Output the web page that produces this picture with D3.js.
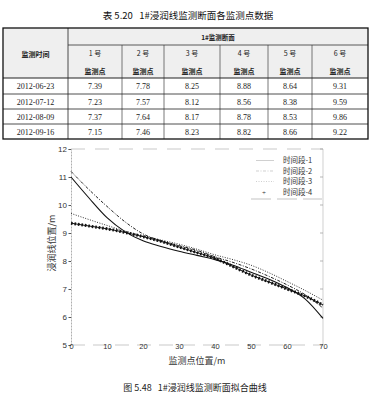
<!DOCTYPE html>
<html>
<head>
<meta charset="utf-8">
<script src="https://cdn.jsdelivr.net/npm/d3@7"></script>
<style>
  body { margin: 0; background: #fff; }
  svg { display: block; }
</style>
</head>
<body>
<svg id="page" width="390" height="398"></svg>
<script>
// table data
const tableTitle = "表 5.20\u00a0\u00a0\u00a01#浸润线监测断面各监测点数据";
const sectionName = "1#监测断面";
const dates = ["2012-06-23", "2012-07-12", "2012-08-09", "2012-09-16"];
const pointNames = ["1 号", "2 号", "3 号", "4 号", "5 号", "6 号"];
const row1 = [7.39, 7.78, 8.25, 8.88, 8.64, 9.31];
const row2 = [7.23, 7.57, 8.12, 8.56, 8.38, 9.59];
const row3 = [7.37, 7.64, 8.17, 8.78, 8.53, 9.86];
const row4 = [7.15, 7.46, 8.23, 8.82, 8.66, 9.22];

// chart data
const positions = [0, 5, 10, 15, 20, 25, 30, 35, 40, 45, 50, 55, 60, 65, 70];
const period1 = [11.0, 10.25, 9.55, 9.05, 8.72, 8.52, 8.35, 8.2, 8.05, 7.85, 7.6, 7.35, 7.05, 6.65, 5.95];
const period2 = [11.2, 10.55, 9.95, 9.4, 8.97, 8.72, 8.55, 8.38, 8.15, 7.95, 7.72, 7.45, 7.15, 6.8, 6.32];
const period3 = [9.7, 9.48, 9.27, 9.07, 8.9, 8.75, 8.6, 8.42, 8.22, 8.05, 7.85, 7.58, 7.27, 6.95, 6.6];
const period4 = [9.35, 9.25, 9.15, 9.02, 8.87, 8.7, 8.5, 8.3, 8.1, 7.8, 7.5, 7.25, 7.0, 6.75, 6.43];
const seriesNames = ["时间段-1", "时间段-2", "时间段-3", "时间段-4"];
const xTicks = [0, 10, 20, 30, 40, 50, 60, 70];
const yTicks = [5, 6, 7, 8, 9, 10, 11, 12];
const figCaption = "图 5.48\u00a0\u00a0\u00a01#浸润线监测断面拟合曲线";

const svg = d3.select("#page");
const cjk = "'Noto Sans CJK SC', sans-serif";
const serif = "'Liberation Serif', 'DejaVu Serif', serif";

// ---- TABLE ----
svg.append("text")
    .attr("x", 188).attr("y", 19)
    .attr("text-anchor", "middle")
    .style("font-family", cjk).style("font-size", "9.5px").style("fill", "#111")
    .text(tableTitle);

const colEdges = [3, 68, 122, 164, 220, 268, 312, 368];
const rowEdges = [28, 45, 78, 94, 109, 124, 139];

const tbl = svg.append("g");
// header background (scanned grey)
tbl.append("rect")
    .attr("x", colEdges[0]).attr("y", rowEdges[0])
    .attr("width", colEdges[7] - colEdges[0]).attr("height", rowEdges[2] - rowEdges[0])
    .attr("fill", "#efefef");

// vertical inner lines
tbl.selectAll(".vl").data(colEdges.slice(1, -1)).enter().append("line")
    .attr("x1", d => d).attr("x2", d => d)
    .attr("y1", (d, i) => i === 0 ? rowEdges[0] : rowEdges[1])
    .attr("y2", rowEdges[6])
    .attr("stroke", (d, i) => i === 0 ? "#222" : "#555")
    .attr("stroke-width", 0.8);

// horizontal lines
tbl.append("line")
    .attr("x1", colEdges[1]).attr("x2", colEdges[7])
    .attr("y1", rowEdges[1]).attr("y2", rowEdges[1])
    .attr("stroke", "#333").attr("stroke-width", 0.8);
tbl.selectAll(".hl").data(rowEdges.slice(2, -1)).enter().append("line")
    .attr("x1", colEdges[0]).attr("x2", colEdges[7])
    .attr("y1", d => d).attr("y2", d => d)
    .attr("stroke", "#222")
    .attr("stroke-width", (d, i) => i === 0 ? 1.2 : 0.8);

// outer border
tbl.append("rect")
    .attr("x", colEdges[0]).attr("y", rowEdges[0])
    .attr("width", colEdges[7] - colEdges[0]).attr("height", rowEdges[6] - rowEdges[0])
    .attr("fill", "none").attr("stroke", "#111").attr("stroke-width", 1.3);

// header texts
tbl.append("text")
    .attr("x", (colEdges[0] + colEdges[1]) / 2).attr("y", 57)
    .attr("text-anchor", "middle")
    .style("font-family", cjk).style("font-size", "7px").style("font-weight", "bold").style("fill", "#222")
    .text("监测时间");
tbl.append("text")
    .attr("x", (colEdges[1] + colEdges[7]) / 2).attr("y", 39.5)
    .attr("text-anchor", "middle")
    .style("font-family", cjk).style("font-size", "6.5px").style("font-weight", "bold").style("fill", "#222")
    .text(sectionName);

pointNames.forEach((name, i) => {
    const cx = (colEdges[i + 1] + colEdges[i + 2]) / 2;
    tbl.append("text")
        .attr("x", cx).attr("y", 56)
        .attr("text-anchor", "middle")
        .style("font-family", cjk).style("font-size", "7px").style("fill", "#222")
        .text(name);
    tbl.append("text")
        .attr("x", cx).attr("y", 73.5)
        .attr("text-anchor", "middle")
        .style("font-family", cjk).style("font-size", "7px").style("font-weight", "bold").style("fill", "#222")
        .text("监测点");
});

const rows = [row1, row2, row3, row4];
const fmt = d3.format(".2f");
rows.forEach((vals, r) => {
    const cy = (rowEdges[r + 2] + rowEdges[r + 3]) / 2 + 3;
    tbl.append("text")
        .attr("x", (colEdges[0] + colEdges[1]) / 2).attr("y", cy)
        .attr("text-anchor", "middle")
        .style("font-family", serif).style("font-size", "8px").style("fill", "#222")
        .text(dates[r]);
    vals.forEach((v, i) => {
        tbl.append("text")
            .attr("x", (colEdges[i + 1] + colEdges[i + 2]) / 2).attr("y", cy)
            .attr("text-anchor", "middle")
            .style("font-family", serif).style("font-size", "8px").style("fill", "#222")
            .text(fmt(v));
    });
});

// ---- CHART ----
const xScale = d3.scaleLinear().domain([0, 70]).range([71, 323]);
const yScale = d3.scaleLinear().domain([5, 12]).range([345, 149]);

// frame
svg.append("line")
    .attr("x1", 323).attr("x2", 323).attr("y1", 149).attr("y2", 345)
    .attr("stroke", "#bbb").attr("stroke-width", 0.7);
svg.append("line")
    .attr("x1", 71).attr("x2", 323).attr("y1", 149).attr("y2", 149)
    .attr("stroke", "#bbb").attr("stroke-width", 0.8).attr("stroke-dasharray", "14,10");
svg.append("line")
    .attr("x1", 71).attr("x2", 323).attr("y1", 345).attr("y2", 345)
    .attr("stroke", "#bbb").attr("stroke-width", 0.8).attr("stroke-dasharray", "14,8");

// right-side inner ticks
svg.selectAll(".rt").data(yTicks).enter().append("line")
    .attr("x1", 320).attr("x2", 323)
    .attr("y1", d => yScale(d)).attr("y2", d => yScale(d))
    .attr("stroke", "#999").attr("stroke-width", 0.7);

const yAxis = svg.append("g")
    .attr("transform", "translate(71,0)")
    .call(d3.axisLeft(yScale).tickValues(yTicks).tickSize(2.5).tickPadding(1.5).tickFormat(d3.format("d")));
yAxis.select(".domain").attr("stroke", "#999").attr("stroke-width", 0.8).attr("stroke-dasharray", "2,1");
yAxis.selectAll(".tick line").attr("stroke", "#555");
yAxis.selectAll(".tick text")
    .style("font-family", "'Liberation Sans', Arial, sans-serif").style("font-size", "8px").style("fill", "#333");

const xAxis = svg.append("g")
    .attr("transform", "translate(0,344)")
    .call(d3.axisBottom(xScale).tickValues(xTicks).tickSize(0).tickPadding(0).tickFormat(d3.format("d")));
xAxis.select(".domain").remove();
xAxis.selectAll(".tick text")
    .style("font-family", "'Liberation Sans', Arial, sans-serif").style("font-size", "7.5px").style("fill", "#333");

// curves
const allSeries = [period1, period2, period3, period4];
const styles = [
    { dash: null, width: 1.1, color: "#111" },
    { dash: "3,1.5,1,1.5", width: 1.0, color: "#222" },
    { dash: "1,1.5", width: 1.0, color: "#333" },
    { dash: null, width: 1.0, color: "#111" }
];
const line = d3.line()
    .x(d => xScale(d[0]))
    .y(d => yScale(d[1]))
    .curve(d3.curveMonotoneX);

allSeries.forEach((vals, s) => {
    const pts = positions.map((p, i) => [p, vals[i]]);
    svg.append("path")
        .datum(pts)
        .attr("fill", "none")
        .attr("stroke", styles[s].color)
        .attr("stroke-width", styles[s].width)
        .attr("stroke-dasharray", styles[s].dash)
        .attr("d", line);
    if (s === 3) {
        // dense "+" markers along the fitted line
        svg.append("path")
            .datum(pts)
            .attr("fill", "none")
            .attr("stroke", "#111")
            .attr("stroke-width", 3)
            .attr("stroke-dasharray", "1.6,1.9")
            .attr("d", line);
    }
});

// legend
const legend = svg.append("g");
legend.append("line")
    .attr("x1", 251).attr("x2", 322).attr("y1", 199).attr("y2", 199)
    .attr("stroke", "#aaa").attr("stroke-width", 0.7).attr("stroke-dasharray", "20,6");
seriesNames.forEach((name, i) => {
    const ly = 160.5 + i * 10.5;
    if (i === 3) {
        legend.append("text")
            .attr("x", 264).attr("y", ly + 2.5)
            .attr("text-anchor", "middle")
            .style("font-size", "7px").style("fill", "#333")
            .text("+");
    } else {
        legend.append("line")
            .attr("x1", 256).attr("x2", 274).attr("y1", ly).attr("y2", ly)
            .attr("stroke", "#bbb").attr("stroke-width", 0.7)
            .attr("stroke-dasharray", styles[i].dash);
    }
    legend.append("text")
        .attr("x", 283).attr("y", ly + 2.8)
        .style("font-family", cjk).style("font-size", "7.5px").style("fill", "#333")
        .text(name);
});

// axis titles
svg.append("text")
    .attr("x", 197).attr("y", 364)
    .attr("text-anchor", "middle")
    .style("font-family", cjk).style("font-size", "9px").style("fill", "#333")
    .text("监测点位置/m");
svg.append("text")
    .attr("transform", "translate(55,243) rotate(-90)")
    .attr("text-anchor", "middle")
    .style("font-family", cjk).style("font-size", "9px").style("fill", "#333")
    .text("浸润线位置/m");

// caption
svg.append("text")
    .attr("x", 195).attr("y", 391)
    .attr("text-anchor", "middle")
    .style("font-family", cjk).style("font-size", "9px").style("fill", "#222")
    .text(figCaption);
</script>
</body>
</html>
